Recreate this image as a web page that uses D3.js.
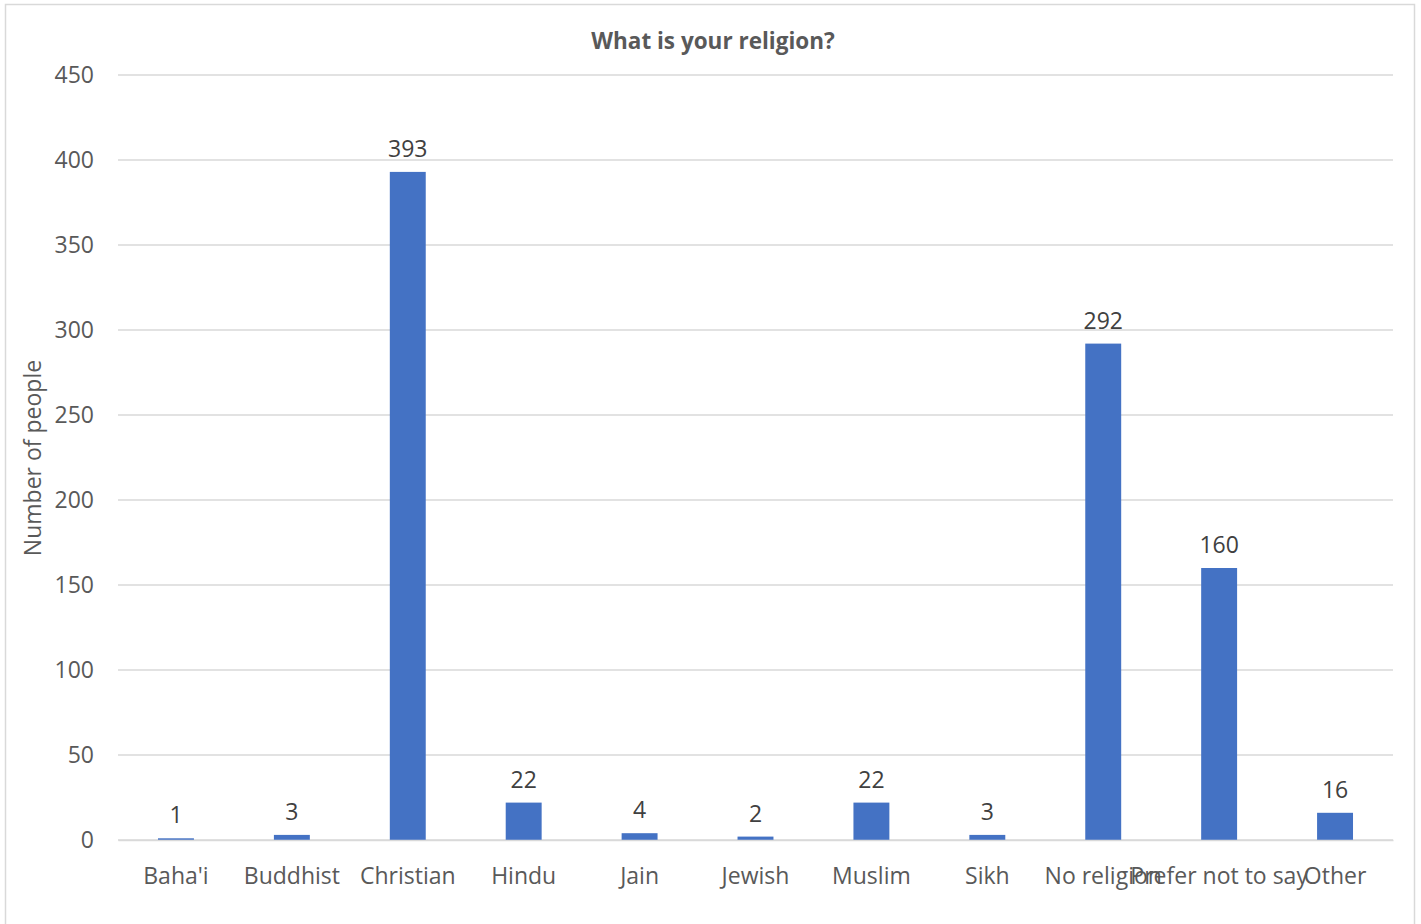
<!DOCTYPE html>
<html><head><meta charset="utf-8">
<script src="https://cdn.jsdelivr.net/npm/d3@7"></script>
<style>body{margin:0;background:#fff;} text{font-family:"Open Sans",sans-serif;}</style>
</head><body>
<svg id="c" width="1421" height="924"></svg>
<script>
const categories = ["Baha'i","Buddhist","Christian","Hindu","Jain","Jewish","Muslim","Sikh","No religion","Prefer not to say","Other"];
const values = [1,3,393,22,4,2,22,3,292,160,16];
const yTicks = [0,50,100,150,200,250,300,350,400,450];
const title = "What is your religion?";
const yTitle = "Number of people";

const svg = d3.select("#c");
svg.append("rect").attr("x",5.5).attr("y",4.5).attr("width",1409).attr("height",930)
  .attr("fill","#fff").attr("stroke","#d9d9d9").attr("stroke-width",1.5);

const m = {left:118, right:1393, top:75, bottom:840};
const x = d3.scaleBand().domain(categories).range([m.left,m.right]).paddingInner(0.69).paddingOuter(0.345);
const y = d3.scaleLinear().domain([0,450]).range([m.bottom,m.top]);

const grid = svg.append("g");
grid.selectAll("line").data(yTicks).join("line")
  .attr("x1",m.left).attr("x2",m.right)
  .attr("y1",d=>y(d)).attr("y2",d=>y(d))
  .attr("stroke","#d9d9d9").attr("stroke-width",1.5);

const yAxis = svg.append("g").attr("transform",`translate(${m.left-24},0)`)
  .call(d3.axisLeft(y).tickValues(yTicks).tickSize(0).tickPadding(0));
yAxis.select(".domain").remove();
yAxis.selectAll("text").attr("font-size",23).attr("fill","#595959").style("font-family","Open Sans");

svg.selectAll("rect.bar").data(values).join("rect").attr("class","bar")
  .attr("x",(d,i)=>x(categories[i])).attr("width",x.bandwidth())
  .attr("y",d=>y(d)).attr("height",d=>y(0)-y(d)).attr("fill","#4472C4");

svg.selectAll("text.lbl").data(values).join("text").attr("class","lbl")
  .attr("x",(d,i)=>x(categories[i])+x.bandwidth()/2).attr("y",d=>y(d)-15)
  .attr("text-anchor","middle").attr("font-size",23).attr("fill","#404040").text(d=>d);

const xAxis = svg.append("g").attr("transform",`translate(0,${m.bottom})`)
  .call(d3.axisBottom(x).tickSize(0).tickPadding(28));
xAxis.select(".domain").attr("stroke","#d9d9d9").attr("stroke-width",1.5);
xAxis.selectAll("text").attr("font-size",23).attr("fill","#595959").style("font-family","Open Sans");

svg.append("text").attr("x",713).attr("y",49).attr("text-anchor","middle")
  .attr("font-size",22.5).attr("font-weight","bold").attr("fill","#595959").text(title);

svg.append("text").attr("transform","translate(41,458) rotate(-90)").attr("text-anchor","middle")
  .attr("font-size",23).attr("fill","#595959").text(yTitle);
</script>
</body></html>
